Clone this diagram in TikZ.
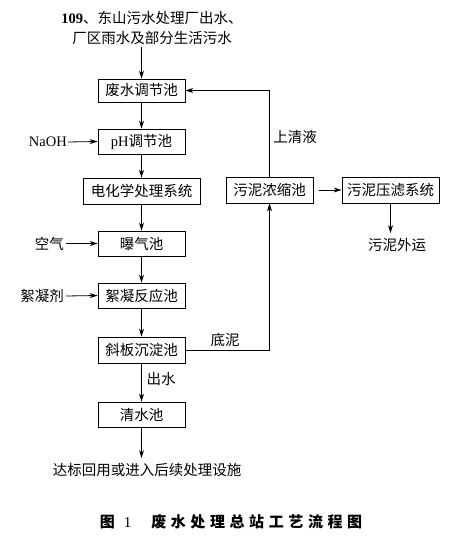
\documentclass[tikz,border=0pt]{standalone}
\usepackage{fontspec}
\setmainfont{Liberation Serif}
\newfontfamily\cjk{Noto Sans CJK SC}
\usetikzlibrary{arrows.meta}
\newcommand{\lat}[1]{{\rmfamily #1}}
\newcommand{\ks}{\kern4.6pt}
\begin{document}
\begin{tikzpicture}[x=1pt,y=-1pt,
  every node/.style={font=\cjk\fontsize{14.5}{18}\selectfont, inner sep=0pt},
  box/.style={draw, line width=0.8pt, minimum width=87pt, minimum height=25pt},
  arr/.style={line width=0.8pt, -{Stealth[length=8pt,width=5pt]}},
  ln/.style={line width=0.8pt}]
\useasboundingbox (0,0) rectangle (465,540);
\fill[white] (0,0) rectangle (465,540);
% top text
\node[align=center] (top) at (152,27.5) {\lat{\bfseries 109}、东山污水处理厂出水、\\[2pt]厂区雨水及部分生活污水};
% boxes
\node[box, minimum height=23pt] (n1) at (141.5,90.5) {废水调节池};
\node[box] (n2) at (141.5,141.5) {\lat{pH}调节池};
\node[box, minimum width=117pt, minimum height=26pt] (n3) at (141.5,191) {电化学处理系统};
\node[box] (n4) at (141.5,243.5) {曝气池};
\node[box] (n5) at (141.5,295.5) {絮凝反应池};
\node[box, minimum height=26pt] (n6) at (141.5,350) {斜板沉淀池};
\node[box] (n7) at (141.5,414.5) {清水池};
\node[box, minimum height=26pt] (n8) at (269.5,190) {污泥浓缩池};
\node[box, minimum width=97pt, minimum height=26pt] (n9) at (390.5,190) {污泥压滤系统};
% side inputs
\node[anchor=east] (naoh) at (67,142) {\lat{NaOH}};
\node[anchor=east] (air) at (64,243.5) {空气};
\node[anchor=east] (floc) at (64,296) {絮凝剂};
\node (out) at (397,245) {污泥外运};
\node (fin) at (147,470) {达标回用或进入后续处理设施};
% labels
\node (l1) at (295,137) {上清液};
\node (l2) at (225,340) {底泥};
\node (l3) at (161,379) {出水};
% caption
\node[font=\cjk\fontsize{15}{18}\selectfont] (cap) at (231,522) {\bfseries 图\kern9pt\lat{\mdseries 1}\kern20pt 废\ks 水\ks 处\ks 理\ks 总\ks 站\ks 工\ks 艺\ks 流\ks 程\ks 图};
% connectors
\coordinate (t0) at (top.south -| n1.north);
\draw[arr] ([yshift=-3pt]t0) -- (n1.north);
\draw[arr] (n1) -- (n2);
\draw[arr] (n2) -- (n3);
\draw[arr] (n3) -- (n4);
\draw[arr] (n4) -- (n5);
\draw[arr] (n5) -- (n6);
\draw[arr] (n6) -- (n7);
\coordinate (f0) at (fin.north -| n7.south);
\draw[arr] (n7.south) -- ([yshift=5pt]f0);
\draw[arr] ([xshift=1pt]naoh.east) -- (n2.west);
\draw[arr] ([xshift=2pt]air.east) -- (n4.west);
\draw[arr] ([xshift=2pt]floc.east) -- (n5.west);
\draw[arr] (n8.north) |- (n1.east);
\draw[arr] (n6.east) -| (n8.south);
\draw[arr] ([xshift=6pt]n8.east) -- (n9.west);
\coordinate (o0) at (out.north -| n9.south);
\draw[arr] (n9.south) -- ([yshift=5pt]o0);
\end{tikzpicture}
\end{document}
